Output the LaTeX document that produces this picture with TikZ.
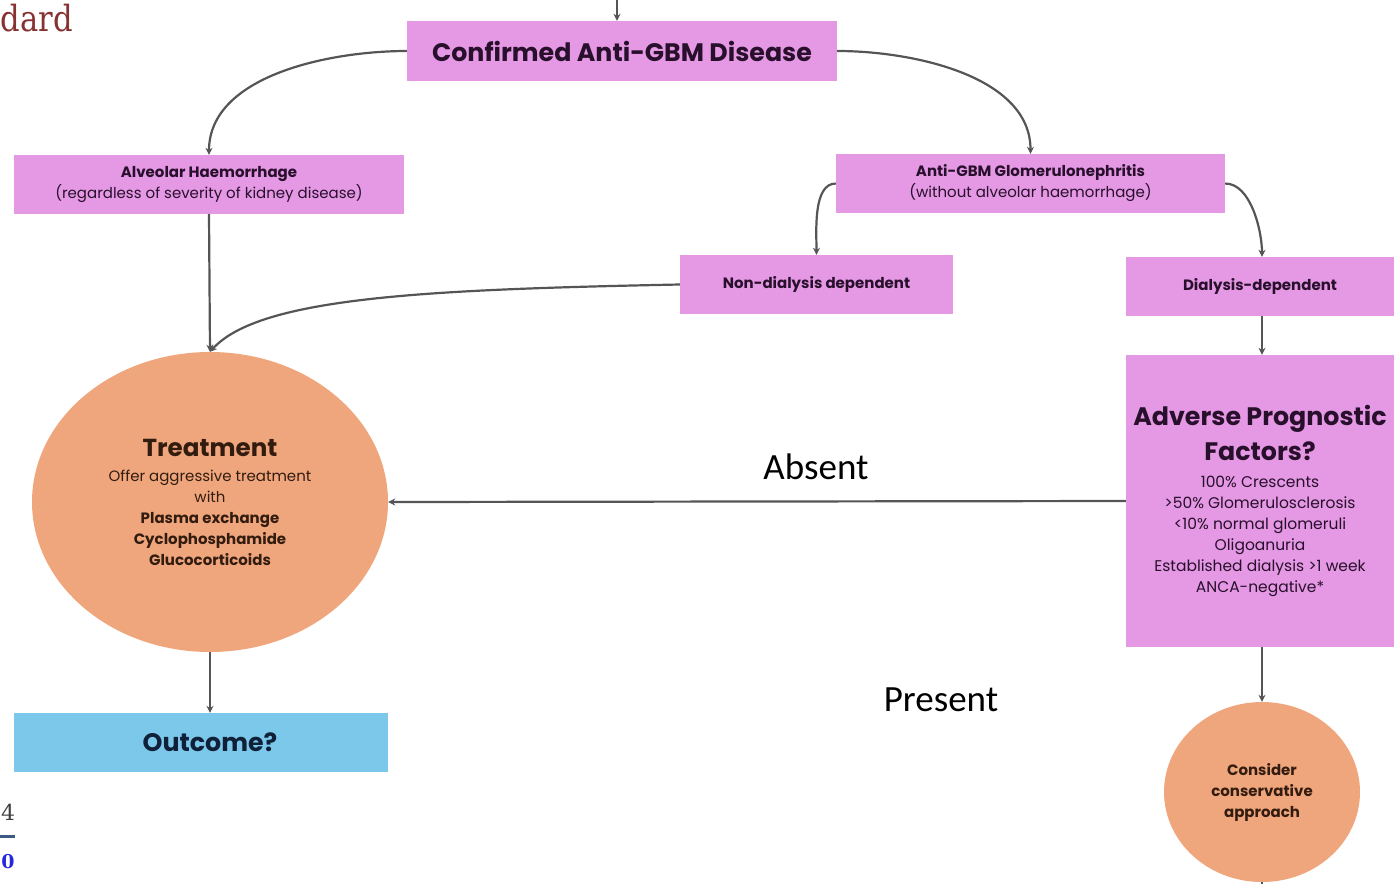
\documentclass[tikz,border=0pt]{standalone}
\usepackage{fontspec}
\setmainfont{Poppins}
\newfontfamily\labelfont{Carlito}
\newfontfamily\serifpart[FakeStretch=0.85]{DejaVu Serif}
\newfontfamily\numserif{DejaVu Serif}
\usetikzlibrary{arrows.meta,shapes.geometric}
\definecolor{boxpink}{RGB}{229,152,228}
\definecolor{boxorange}{RGB}{240,166,124}
\definecolor{boxblue}{RGB}{124,200,234}
\definecolor{inkpurple}{RGB}{40,16,44}
\definecolor{inkbrown}{RGB}{50,28,16}
\definecolor{inknavy}{RGB}{16,32,56}
\definecolor{wire}{RGB}{85,85,85}
\definecolor{headred}{RGB}{135,50,50}
\definecolor{rulegray}{RGB}{60,90,130}
\definecolor{numblue}{RGB}{40,40,220}
\newcommand\bigline{\fontsize{25.3}{30}\selectfont\bfseries}
\newcommand\smallline{\fontsize{15}{21}\selectfont\mdseries}
\newcommand\listline{\fontsize{15.5}{21}\selectfont\mdseries}
\tikzset{
  pinkbox/.style={draw=none, fill=boxpink, text=inkpurple, align=center, inner sep=0pt},
  orangeblob/.style={ellipse, draw=none, fill=boxorange, text=inkbrown, align=center, inner sep=0pt},
  conn/.style={draw=wire, line width=2.2pt, -{Stealth[length=7pt,width=7pt]}},
  plainline/.style={draw=wire, line width=2.2pt},
  smalltext/.style={font=\smallline},
  freelabel/.style={font=\labelfont\fontsize{37}{37}\selectfont, inner sep=0pt},
}
\begin{document}
\begin{tikzpicture}[x=1pt,y=-1pt]
\useasboundingbox (0,0) rectangle (1394,884);

% header fragments at the left edge
\node[anchor=west, inner sep=0pt, text=headred, font=\serifpart\fontsize{36}{36}\selectfont] (hdr) at (0.5,18) {dard};
\node[inner sep=0pt, text=black!75, font=\numserif\fontsize{22}{22}\selectfont] (pgnum) at (8,812) {4};
\draw[line width=3pt, rulegray] (0,836) -- (15,836);
\node[inner sep=0pt, text=numblue, font=\numserif\bfseries\fontsize{19}{19}\selectfont] (pgsub) at (8,862) {0};

% boxes
\node[pinkbox, minimum width=430, minimum height=60, font=\bigline] (conf) at (622,51) {Confirmed Anti-GBM Disease};
\node[pinkbox, minimum width=390, minimum height=59, smalltext] (alv) at (209,184.5) {\textbf{Alveolar Haemorrhage}\\(regardless of severity of kidney disease)};
\node[pinkbox, minimum width=389, minimum height=59, smalltext] (agn) at (1030.5,183.5) {\textbf{Anti-GBM Glomerulonephritis}\\(without alveolar haemorrhage)};
\node[pinkbox, minimum width=273, minimum height=59, smalltext] (nond) at (816.5,284.5) {\textbf{Non-dialysis dependent}};
\node[pinkbox, minimum width=268, minimum height=59, smalltext] (dial) at (1260,286.5) {\textbf{Dialysis-dependent}};
\node[pinkbox, minimum width=268, minimum height=292, font=\listline] (adv) at (1260,501) {{\bigline Adverse Prognostic}\\[9pt]{\bigline Factors?}\\[6pt]100\% Crescents\\>50\% Glomerulosclerosis\\<10\% normal glomeruli\\Oligoanuria\\Established dialysis >1 week\\ANCA-negative*};
\node[orangeblob, minimum width=356, minimum height=300, smalltext] (treat) at (210,502) {{\fontsize{24.6}{28}\selectfont\bfseries Treatment}\\[4pt]Offer aggressive treatment\\with\\\textbf{Plasma exchange}\\\textbf{Cyclophosphamide}\\\textbf{Glucocorticoids}};
\node[orangeblob, minimum width=196, minimum height=180, font=\fontsize{15}{21}\selectfont\bfseries] (cons) at (1262,792) {Consider\\conservative\\approach};
\node[draw=none, fill=boxblue, text=inknavy, minimum width=374, minimum height=59, inner sep=0pt, font=\bigline] (out) at (201,742.5) {\hspace*{18pt}Outcome?};

% free labels
\node[freelabel] (absent) at (816,467) {Absent};
\node[freelabel] (present) at (941,700) {Present};

% connectors
\coordinate (topin) at (617,0);
\coordinate (botout) at (1262,884);
\draw[conn] (topin) -- (topin |- conf.north);
\draw[conn] (conf.west) to[out=180, in=90, looseness=0.9] (alv.north);
\draw[conn] (conf.east) to[out=0, in=90, looseness=0.9] (agn.north);
\draw[conn] (agn.west) to[out=180, in=90, looseness=0.8] (nond.north);
\draw[conn] (agn.east) to[out=0, in=90, looseness=0.8] ([xshift=2pt]dial.north);
\draw[conn] (alv.south) -- (treat.north);
\draw[conn] (nond.west) .. controls +(-250,5) and +(50,-55) .. (treat.north);
\draw[conn] ([xshift=2pt]dial.south) -- ([xshift=2pt]adv.north);
\draw[conn] (adv.west) -- (treat.east);
\draw[conn] ([xshift=2pt]adv.south) -- ([xshift=2pt]adv.south |- cons.north);
\draw[plainline] (cons.south) -- (botout);
\draw[conn] (treat.south) -- (treat.south |- out.north);
\end{tikzpicture}
\end{document}
